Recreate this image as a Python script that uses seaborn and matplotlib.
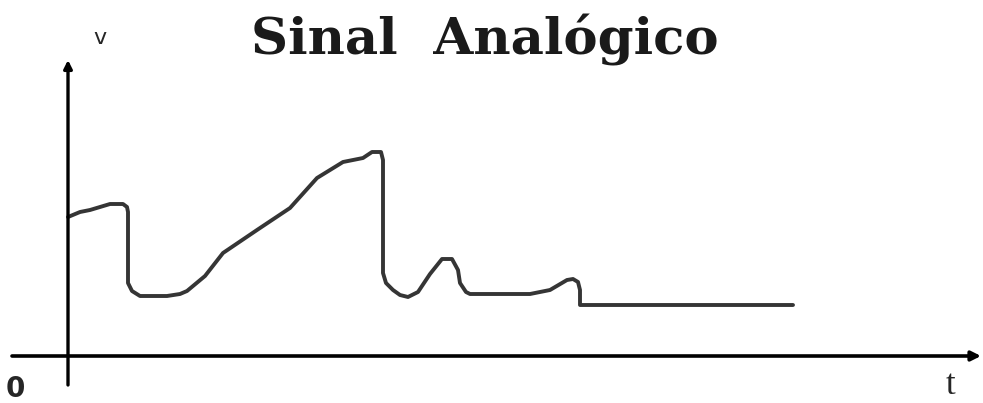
import numpy as np
import pandas as pd
import matplotlib as mpl
import matplotlib.pyplot as plt
import seaborn as sns

mpl.use('Agg')

# Curve samples (t, v in arbitrary units, origin at axes crossing)
t_vals = [0.0, 1.2, 2.2, 3.2, 4.2, 5.5, 5.9, 6.0, 6.0, 6.4, 7.2, 9.9, 11.2, 11.9,
          13.7, 15.5, 18.9, 22.2, 24.9, 26.2, 27.5, 29.5, 30.4, 31.3, 31.5, 31.5,
          31.8, 32.5, 33.2, 34.0, 35.0, 36.2, 37.4, 38.4, 39.0, 39.2, 39.8, 40.2,
          46.2, 48.2, 49.9, 50.5, 51.0, 51.2, 51.2, 72.5]
v_vals = [13.9, 14.4, 14.6, 14.9, 15.2, 15.2, 14.9, 14.4, 7.3, 6.5, 6.0, 6.0, 6.2, 6.5,
          8.0, 10.3, 12.6, 14.8, 17.8, 18.6, 19.4, 19.8, 20.4, 20.4, 19.6, 8.3,
          7.3, 6.6, 6.1, 5.9, 6.4, 8.2, 9.7, 9.7, 8.6, 7.3, 6.4, 6.2,
          6.2, 6.6, 7.6, 7.7, 7.4, 6.6, 5.1, 5.1]

title = 'Sinal  Analógico'
x_label = 't'
y_label = 'v'
origin_label = '0'

sns.set_style('white')
fig = plt.figure(figsize=(9.83, 4.03), dpi=100)
ax = fig.add_axes([0, 0, 1, 1])
ax.set_xlim(-6.8, 91.5)
ax.set_ylim(-4.7, 35.6)
ax.axis('off')

df = pd.DataFrame({'t': t_vals, 'v': v_vals})
sns.lineplot(data=df, x='t', y='v', sort=False, estimator=None,
             color='#353535', lw=2.8, ax=ax)

# axes with arrows
ax.annotate('', xy=(91.3, 0), xytext=(-5.6, 0),
            arrowprops=dict(arrowstyle='-|>', color='black', lw=2.6,
                            mutation_scale=14, shrinkA=0, shrinkB=0))
ax.annotate('', xy=(0, 29.6), xytext=(0, -2.9),
            arrowprops=dict(arrowstyle='-|>', color='black', lw=2.4,
                            mutation_scale=12, shrinkA=0, shrinkB=0))

ax.text(41.7, 31.6, title, ha='center', va='center', color='#1a1a1a',
        family='DejaVu Serif', weight='bold', fontsize=37)
ax.text(3.2, 31.8, y_label, ha='center', va='center', fontsize=16, family='DejaVu Sans')
ax.text(-5.3, -3.3, origin_label, ha='center', va='center', fontsize=20,
        family='DejaVu Sans', weight='bold')
ax.text(88.2, -2.9, x_label, ha='center', va='center', fontsize=25, family='Liberation Serif')

fig.savefig('out.png', dpi=100)
